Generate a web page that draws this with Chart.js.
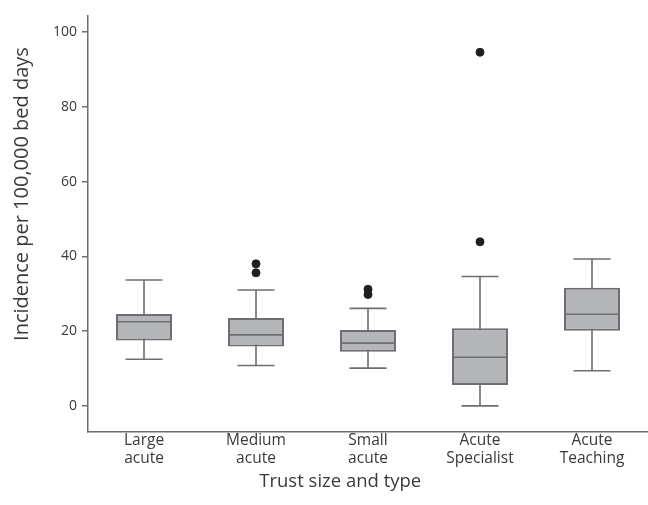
<!DOCTYPE html>
<html>
<head>
<meta charset="utf-8">
<script src="https://cdn.jsdelivr.net/npm/chart.js@4.4.1/dist/chart.umd.min.js"></script>
<style>
  html, body { margin: 0; padding: 0; background: #fff; overflow: hidden; }
  #wrap { width: 648px; height: 505px; position: relative; }
  canvas { display: block; }
</style>
</head>
<body>
<div id="wrap"><canvas id="chart"></canvas></div>
<script>
// box plot data
const categories = [['Large', 'acute'], ['Medium', 'acute'], ['Small', 'acute'], ['Acute', 'Specialist'], ['Acute', 'Teaching']];
const whiskerLow = [12.5, 10.8, 10.1, 0, 9.4];
const q1 = [17.5, 15.9, 14.5, 5.6, 20.1];
const median = [22.5, 19.0, 16.8, 13.0, 24.5];
const q3 = [24.6, 23.5, 20.3, 20.8, 31.6];
const whiskerHigh = [33.7, 31.0, 26.1, 34.6, 39.3];
const outliers = [[], [38.0, 35.6], [31.2, 29.8], [94.6, 43.9], []];
const yTicks = [0, 20, 40, 60, 80, 100];

const axisColor = '#6d6e71';
const boxFill = '#b4b5b8';
const textColor = '#3a3a3c';
const labels = categories.map(c => c.join(' '));
// titles sit off-centre in the original, pad them with en spaces
const pad = '\u2002'.repeat(6);

// whiskers behind the boxes, medians on top
const boxLines = {
    id: 'boxLines',
    beforeDatasetsDraw(chart) {
        const ctx = chart.ctx, x = chart.scales.x, y = chart.scales.y;
        const cap = x.width / labels.length * 0.33 / 2;
        ctx.save();
        ctx.strokeStyle = axisColor;
        ctx.lineWidth = 1.6;
        labels.forEach((l, i) => {
            const cx = x.getPixelForValue(i);
            ctx.beginPath();
            ctx.moveTo(cx, y.getPixelForValue(whiskerLow[i]));
            ctx.lineTo(cx, y.getPixelForValue(whiskerHigh[i]));
            [whiskerLow[i], whiskerHigh[i]].forEach(v => {
                ctx.moveTo(cx - cap, y.getPixelForValue(v));
                ctx.lineTo(cx + cap, y.getPixelForValue(v));
            });
            ctx.stroke();
        });
        ctx.restore();
    },
    afterDatasetsDraw(chart) {
        const ctx = chart.ctx, x = chart.scales.x, y = chart.scales.y;
        const half = x.width / labels.length * 0.5 / 2;
        ctx.save();
        ctx.strokeStyle = axisColor;
        ctx.lineWidth = 1.6;
        labels.forEach((l, i) => {
            const cx = x.getPixelForValue(i);
            const py = y.getPixelForValue(median[i]);
            ctx.beginPath();
            ctx.moveTo(cx - half, py);
            ctx.lineTo(cx + half, py);
            ctx.stroke();
        });
        ctx.restore();
    }
};

const outlierPoints = [];
outliers.forEach((list, i) => list.forEach(v => outlierPoints.push({ x: labels[i], y: v })));

new Chart(document.getElementById('chart'), {
    type: 'bar',
    data: {
        labels: labels,
        datasets: [{
            label: 'IQR',
            data: q1.map((v, i) => [v, q3[i]]),
            backgroundColor: boxFill,
            borderColor: axisColor,
            borderWidth: 2,
            borderSkipped: false,
            categoryPercentage: 1,
            barPercentage: 0.5,
            order: 2
        }, {
            type: 'scatter',
            label: 'Outliers',
            data: outlierPoints,
            backgroundColor: '#231f20',
            borderColor: '#231f20',
            pointRadius: 4,
            order: 1
        }]
    },
    options: {
        responsive: true,
        maintainAspectRatio: false,
        animation: false,
        layout: { autoPadding: false, padding: { top: 16, right: 0, left: 10, bottom: 12 } },
        plugins: {
            legend: { display: false },
            tooltip: { enabled: false }
        },
        scales: {
            x: {
                type: 'category',
                offset: true,
                grid: { display: false, drawTicks: false, tickLength: 0 },
                border: { color: axisColor, width: 1.5 },
                ticks: {
                    color: textColor,
                    font: { family: 'Open Sans', size: 15.5, lineHeight: 1.12 },
                    padding: 0,
                    maxRotation: 0,
                    callback: (v, i) => categories[i]
                },
                title: {
                    display: true,
                    text: 'Trust size and type' + pad,
                    color: textColor,
                    font: { family: 'Open Sans', size: 18.5 },
                    padding: { top: 4, bottom: 0 }
                }
            },
            y: {
                min: -7,
                max: 104.3,
                afterBuildTicks: axis => { axis.ticks = yTicks.map(v => ({ value: v })); },
                grid: { drawOnChartArea: false, drawTicks: true, tickLength: 6, color: axisColor, lineWidth: 1.5 },
                border: { color: axisColor, width: 1.5 },
                ticks: {
                    color: textColor,
                    font: { family: 'Open Sans', size: 14 },
                    padding: 5
                },
                title: {
                    display: true,
                    text: pad + 'Incidence per 100,000 bed days',
                    color: textColor,
                    font: { family: 'Open Sans', size: 20 },
                    padding: { top: 0, bottom: 14 }
                }
            }
        }
    },
    plugins: [boxLines]
});
</script>
</body>
</html>
